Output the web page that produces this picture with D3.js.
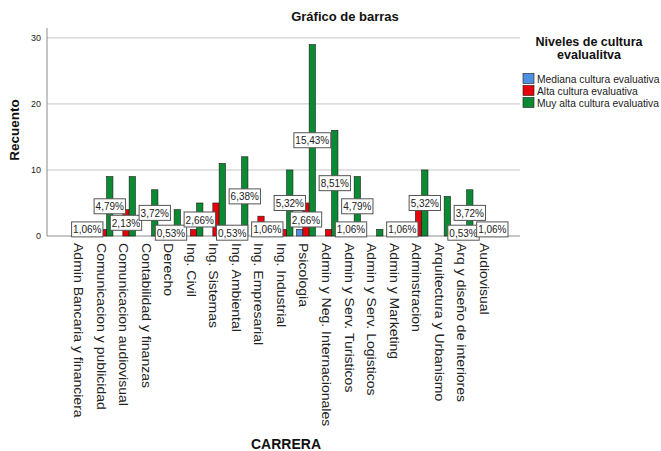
<!DOCTYPE html>
<html>
<head>
<meta charset="utf-8">
<script src="https://cdn.jsdelivr.net/npm/d3@7"></script>
<style>
  body { margin: 0; background: #fff; }
  text { font-family: "Liberation Sans", Arial, sans-serif; }
</style>
</head>
<body>
<svg id="chart" width="661" height="451"></svg>
<script>
const categories = [
  "Admin Bancaria y financiera", "Comunicacion y publicidad", "Comunicacion audiovisual",
  "Contabilidad y finanzas", "Derecho", "Ing. Civil", "Ing. Sistemas", "Ing. Ambiental",
  "Ing. Empresarial", "Ing. Industrial", "Psicologia", "Admin y Neg. Internacionales",
  "Admin y Serv. Turisticos", "Admin y Serv. Logisticos", "Admin y Marketing",
  "Adminstracion", "Arquitectura y Urbanismo", "Arq y diseño de interiores", "Audiovisual"
]
const seriesNames = ["Mediana cultura evaluativa", "Alta cultura evaluativa", "Muy alta cultura evaluativa"]
const mediana = [0, 0, 0, 0, 0, 0, 0, 1, 0, 0, 1, 0, 0, 0, 0, 0, 0, 0, 0]
const alta    = [0, 1, 4, 0, 1, 1, 5, 0, 3, 1, 5, 1, 2, 0, 0, 4, 0, 1, 0]
const muyAlta = [2, 9, 9, 7, 4, 5, 11, 12, 2, 10, 29, 16, 9, 1, 2, 10, 6, 7, 2]
const totalN = 188
const yTicks = [0, 10, 20, 30]
// labels that stay visible in the original (category index, series index)
const shownLabels = [[0, 2], [1, 2], [2, 1], [3, 2], [4, 1], [5, 2], [7, 0], [7, 2], [8, 2], [9, 2],
  [10, 1], [10, 2], [11, 2], [12, 1], [12, 2], [14, 2], [15, 2], [17, 1], [17, 2], [18, 2]]

const colors = ["#4f8fdf", "#e8000b", "#0b8a34"]
const seriesValues = [mediana, alta, muyAlta]

const svg = d3.select("#chart")
const plotLeft = 47, plotRight = 520, plotTop = 28, plotBottom = 236

const x0 = d3.scaleBand().domain(categories).range([plotLeft, plotRight]).paddingInner(0).paddingOuter(1.01)
const bw = x0.bandwidth()
const x1 = d3.scaleBand().domain([0, 1, 2]).range([bw * 0.08, bw * 0.92])
const y = d3.scaleLinear().domain([0, 31.5]).range([plotBottom, plotTop])

// gridlines
svg.append("g")
  .selectAll("line")
  .data(yTicks.filter(d => d > 0))
  .enter()
  .append("line")
  .attr("x1", plotLeft).attr("x2", plotRight)
  .attr("y1", d => y(d)).attr("y2", d => y(d))
  .attr("stroke", "#c4c4c4")
  .attr("stroke-width", 1)

// y axis
const yAxis = svg.append("g")
  .attr("transform", "translate(" + plotLeft + ",0)")
  .call(d3.axisLeft(y).tickValues(yTicks).tickSize(0).tickPadding(6).tickFormat(d3.format("d")))
yAxis.select(".domain").attr("stroke", "#8c8c8c").attr("d", "M0," + plotTop + "V" + plotBottom)
yAxis.selectAll("text").style("font-size", "9px").attr("fill", "#222")

// x axis
const xAxis = svg.append("g")
  .attr("transform", "translate(0," + plotBottom + ")")
  .call(d3.axisBottom(x0).tickSize(0))
xAxis.select(".domain").attr("stroke", "#8c8c8c").attr("d", "M" + plotLeft + ",0H" + plotRight)
xAxis.selectAll("text")
  .attr("transform", "rotate(90) scale(1.17,1)")
  .attr("x", 6)
  .attr("y", 6.5)
  .attr("dy", 0)
  .style("text-anchor", "start")
  .style("font-size", "12px")
  .attr("fill", "#222")

// bars
const barData = []
categories.forEach((c, i) => {
  seriesValues.forEach((vals, s) => {
    if (vals[i] > 0) barData.push({ cat: c, s: s, v: vals[i] })
  })
})
svg.append("g")
  .selectAll("rect")
  .data(barData)
  .enter()
  .append("rect")
  .attr("x", d => x0(d.cat) + x1(d.s))
  .attr("y", d => y(d.v))
  .attr("width", x1.bandwidth())
  .attr("height", d => y(0) - y(d.v))
  .attr("fill", d => colors[d.s])
  .attr("stroke", "#1a1a1a")
  .attr("stroke-width", 0.6)

// value labels (percent of total)
const pct = v => d3.format(".2f")(v / totalN * 100).replace(".", ",") + "%"
const labels = svg.append("g")
  .selectAll("g")
  .data(shownLabels.map(([i, s]) => ({ cat: categories[i], s: s, v: seriesValues[s][i] })))
  .enter()
  .append("g")
  .attr("transform", d => "translate(" + (x0(d.cat) + x1(d.s) + x1.bandwidth() / 2) + "," + y(d.v / 2) + ")")
labels.append("rect")
labels.append("text")
  .text(d => pct(d.v))
  .attr("text-anchor", "middle")
  .attr("dy", "0.36em")
  .attr("transform", "scale(1,1.12)")
  .style("font-size", "10px")
  .attr("fill", "#222")
labels.each(function () {
  const g = d3.select(this)
  const w = g.select("text").node().getComputedTextLength() + 3
  g.select("rect")
    .attr("x", -w / 2).attr("y", -7.5)
    .attr("width", w).attr("height", 15)
    .attr("fill", "#fff")
    .attr("stroke", "#555")
    .attr("stroke-width", 1)
})

// titles
svg.append("text")
  .attr("x", 345).attr("y", 21)
  .attr("text-anchor", "middle")
  .style("font-size", "13px").style("font-weight", "bold")
  .attr("fill", "#111")
  .text("Gráfico de barras")

svg.append("text")
  .attr("x", 286).attr("y", 449)
  .attr("text-anchor", "middle")
  .style("font-size", "14px").style("font-weight", "bold")
  .attr("fill", "#111")
  .text("CARRERA")

svg.append("text")
  .attr("transform", "translate(19,130) rotate(-90)")
  .attr("text-anchor", "middle")
  .style("font-size", "13.5px").style("font-weight", "bold")
  .attr("fill", "#111")
  .text("Recuento")

// legend
const legend = svg.append("g")
legend.selectAll("text.title")
  .data(["Niveles de cultura", "evalualitva"])
  .enter()
  .append("text")
  .attr("class", "title")
  .attr("x", 589)
  .attr("y", (d, i) => 46 + i * 12.5)
  .attr("text-anchor", "middle")
  .style("font-size", "12.5px").style("font-weight", "bold")
  .attr("fill", "#111")
  .text(d => d)

const items = legend.selectAll("g.item")
  .data(seriesNames)
  .enter()
  .append("g")
  .attr("class", "item")
  .attr("transform", (d, i) => "translate(523," + (73.5 + i * 12) + ")")
items.append("rect")
  .attr("width", 11).attr("height", 10)
  .attr("fill", (d, i) => colors[i])
  .attr("stroke", "#1a1a1a")
  .attr("stroke-width", 0.6)
items.append("text")
  .attr("x", 14).attr("y", 9.5)
  .style("font-size", "10.3px")
  .attr("fill", "#222")
  .text(d => d)
</script>
</body>
</html>
